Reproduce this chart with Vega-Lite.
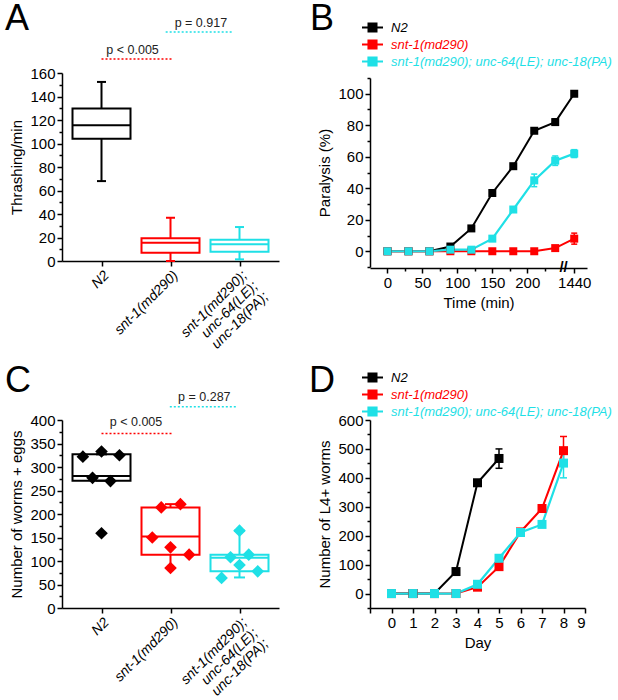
{
 "$schema": "https://vega.github.io/schema/vega-lite/v6.json",
 "autosize": {"type": "pad"},
 "padding": {"left": 5, "top": 1, "right": 0, "bottom": 0},
 "config": {
  "font": "Liberation Sans",
  "view": {"stroke": null},
  "axis": {"domainColor": "black", "domainWidth": 1.5, "tickColor": "black", "tickWidth": 1.5, "tickSize": 5, "labelColor": "black", "labelFontSize": 15, "titleFontSize": 15, "titleFontWeight": "normal", "titleColor": "black", "grid": false, "labelPadding": 2, "titlePadding": 5, "labelOverlap": false},
  "tick": {"opacity": 1},
  "title": {"fontWeight": "normal", "color": "black", "fontSize": 36}
 },
 "datasets": {
  "boxA": [
   {"g": 0, "strain": "N2", "lo": 68, "q1": 104, "med": 115.5, "q3": 129.7, "hi": 152.4},
   {"g": 1, "strain": "snt-1(md290)", "lo": 0, "q1": 7.1, "med": 15.6, "q3": 19.3, "hi": 36.8},
   {"g": 2, "strain": "snt-1(md290); unc-64(LE); unc-18(PA)", "lo": 1.4, "q1": 7.9, "med": 14.2, "q3": 18.1, "hi": 28.9}
  ],
  "pA": [
   {"strain": "snt-1(md290)", "x": 0, "x2": 1.03, "y": 172, "tx": 0.45, "ty": 180, "label": "p < 0.005"},
   {"strain": "snt-1(md290); unc-64(LE); unc-18(PA)", "x": 0.93, "x2": 1.91, "y": 195, "tx": 1.44, "ty": 202.5, "label": "p = 0.917"}
  ],
  "boxC": [
   {"g": 0, "strain": "N2", "lo": 271, "q1": 271, "med": 281, "q3": 327, "hi": 327},
   {"g": 1, "strain": "snt-1(md290)", "lo": 85, "q1": 113.5, "med": 152, "q3": 214, "hi": 221},
   {"g": 2, "strain": "snt-1(md290); unc-64(LE); unc-18(PA)", "lo": 65, "q1": 78, "med": 107, "q3": 113.5, "hi": 164.5}
  ],
  "ptsC": [
   {"strain": "N2", "pos": -0.27, "v": 322},
   {"strain": "N2", "pos": 0, "v": 333},
   {"strain": "N2", "pos": 0.26, "v": 325},
   {"strain": "N2", "pos": -0.13, "v": 277},
   {"strain": "N2", "pos": 0.13, "v": 270},
   {"strain": "N2", "pos": 0, "v": 159},
   {"strain": "snt-1(md290)", "pos": 0.866, "v": 214},
   {"strain": "snt-1(md290)", "pos": 1.144, "v": 221},
   {"strain": "snt-1(md290)", "pos": 0.736, "v": 150},
   {"strain": "snt-1(md290)", "pos": 1, "v": 129},
   {"strain": "snt-1(md290)", "pos": 1.27, "v": 113.5},
   {"strain": "snt-1(md290)", "pos": 1, "v": 85},
   {"strain": "snt-1(md290); unc-64(LE); unc-18(PA)", "pos": 2, "v": 164.5},
   {"strain": "snt-1(md290); unc-64(LE); unc-18(PA)", "pos": 1.87, "v": 108},
   {"strain": "snt-1(md290); unc-64(LE); unc-18(PA)", "pos": 2.134, "v": 113.5},
   {"strain": "snt-1(md290); unc-64(LE); unc-18(PA)", "pos": 2, "v": 91.5},
   {"strain": "snt-1(md290); unc-64(LE); unc-18(PA)", "pos": 1.74, "v": 64},
   {"strain": "snt-1(md290); unc-64(LE); unc-18(PA)", "pos": 2.264, "v": 78}
  ],
  "pC": [
   {"strain": "snt-1(md290)", "x": 0, "x2": 1.04, "y": 371.5, "tx": 0.5, "ty": 395, "label": "p < 0.005"},
   {"strain": "snt-1(md290); unc-64(LE); unc-18(PA)", "x": 0.99, "x2": 1.97, "y": 428, "tx": 1.49, "ty": 450, "label": "p = 0.287"}
  ],
  "lineB": [
   {"strain": "N2", "t": 0, "v": 0}, {"strain": "N2", "t": 30, "v": 0}, {"strain": "N2", "t": 60, "v": 0}, {"strain": "N2", "t": 90, "v": 3}, {"strain": "N2", "t": 120, "v": 14.5}, {"strain": "N2", "t": 150, "v": 37}, {"strain": "N2", "t": 180, "v": 54}, {"strain": "N2", "t": 210, "v": 76.5}, {"strain": "N2", "t": 240, "v": 82}, {"strain": "N2", "t": 1440, "v": 100},
   {"strain": "snt-1(md290)", "t": 0, "v": 0}, {"strain": "snt-1(md290)", "t": 30, "v": 0}, {"strain": "snt-1(md290)", "t": 60, "v": 0}, {"strain": "snt-1(md290)", "t": 90, "v": 0}, {"strain": "snt-1(md290)", "t": 120, "v": 0}, {"strain": "snt-1(md290)", "t": 150, "v": 0}, {"strain": "snt-1(md290)", "t": 180, "v": 0}, {"strain": "snt-1(md290)", "t": 210, "v": 0}, {"strain": "snt-1(md290)", "t": 240, "v": 2}, {"strain": "snt-1(md290)", "t": 1440, "v": 8},
   {"strain": "snt-1(md290); unc-64(LE); unc-18(PA)", "t": 0, "v": 0}, {"strain": "snt-1(md290); unc-64(LE); unc-18(PA)", "t": 30, "v": 0}, {"strain": "snt-1(md290); unc-64(LE); unc-18(PA)", "t": 60, "v": 0}, {"strain": "snt-1(md290); unc-64(LE); unc-18(PA)", "t": 90, "v": 1}, {"strain": "snt-1(md290); unc-64(LE); unc-18(PA)", "t": 120, "v": 1}, {"strain": "snt-1(md290); unc-64(LE); unc-18(PA)", "t": 150, "v": 8}, {"strain": "snt-1(md290); unc-64(LE); unc-18(PA)", "t": 180, "v": 26.5}, {"strain": "snt-1(md290); unc-64(LE); unc-18(PA)", "t": 210, "v": 45}, {"strain": "snt-1(md290); unc-64(LE); unc-18(PA)", "t": 240, "v": 57.5}, {"strain": "snt-1(md290); unc-64(LE); unc-18(PA)", "t": 1440, "v": 62}
  ],
  "errB": [
   {"strain": "N2", "t": 240, "lo": 80, "hi": 84},
   {"strain": "snt-1(md290)", "t": 1440, "lo": 4.5, "hi": 11.5},
   {"strain": "snt-1(md290); unc-64(LE); unc-18(PA)", "t": 210, "lo": 41, "hi": 49},
   {"strain": "snt-1(md290); unc-64(LE); unc-18(PA)", "t": 240, "lo": 54.5, "hi": 60.5},
   {"strain": "snt-1(md290); unc-64(LE); unc-18(PA)", "t": 1440, "lo": 59.5, "hi": 64.5}
  ],
  "breakB": [{"t": 252, "v": -10, "s": "//"}],
  "lineD": [
   {"strain": "N2", "d": 0, "v": 0}, {"strain": "N2", "d": 1, "v": 0}, {"strain": "N2", "d": 2, "v": 0}, {"strain": "N2", "d": 3, "v": 76}, {"strain": "N2", "d": 4, "v": 383}, {"strain": "N2", "d": 5, "v": 467},
   {"strain": "snt-1(md290)", "d": 0, "v": 0}, {"strain": "snt-1(md290)", "d": 1, "v": 0}, {"strain": "snt-1(md290)", "d": 2, "v": 0}, {"strain": "snt-1(md290)", "d": 3, "v": 0}, {"strain": "snt-1(md290)", "d": 4, "v": 22}, {"strain": "snt-1(md290)", "d": 5, "v": 93}, {"strain": "snt-1(md290)", "d": 6, "v": 213}, {"strain": "snt-1(md290)", "d": 7, "v": 294}, {"strain": "snt-1(md290)", "d": 8, "v": 494},
   {"strain": "snt-1(md290); unc-64(LE); unc-18(PA)", "d": 0, "v": 0}, {"strain": "snt-1(md290); unc-64(LE); unc-18(PA)", "d": 1, "v": 0}, {"strain": "snt-1(md290); unc-64(LE); unc-18(PA)", "d": 2, "v": 0}, {"strain": "snt-1(md290); unc-64(LE); unc-18(PA)", "d": 3, "v": 0}, {"strain": "snt-1(md290); unc-64(LE); unc-18(PA)", "d": 4, "v": 32}, {"strain": "snt-1(md290); unc-64(LE); unc-18(PA)", "d": 5, "v": 122}, {"strain": "snt-1(md290); unc-64(LE); unc-18(PA)", "d": 6, "v": 211}, {"strain": "snt-1(md290); unc-64(LE); unc-18(PA)", "d": 7, "v": 239}, {"strain": "snt-1(md290); unc-64(LE); unc-18(PA)", "d": 8, "v": 451}
  ],
  "errD": [
   {"strain": "N2", "d": 5, "lo": 433, "hi": 500},
   {"strain": "N2", "d": 4, "lo": 378, "hi": 388},
   {"strain": "snt-1(md290)", "d": 8, "lo": 446, "hi": 543},
   {"strain": "snt-1(md290); unc-64(LE); unc-18(PA)", "d": 8, "lo": 400, "hi": 502}
  ]
 },
 "columns": 2,
 "bounds": "flush",
 "spacing": {"row": 152, "column": 91},
 "resolve": {"scale": {"color": "independent", "stroke": "independent", "strokeWidth": "independent"}, "legend": {"color": "independent"}},
 "concat": [
  {
   "width": 217, "height": 188,
   "title": {"text": "A", "anchor": "start", "frame": "group", "dx": -57, "offset": -21},
   "layer": [
    {
     "data": {"name": "boxA"},
     "mark": {"type": "rule", "strokeWidth": 2},
     "encoding": {
      "x": {"field": "g", "type": "quantitative", "title": null, "scale": {"domain": [-0.5, 2.5], "nice": false, "zero": false},
       "axis": {"values": [0, 1, 2], "tickCount": 100, "labelOverlap": false, "labelFontSize": 14, "labelExpr": "datum.value === 0 ? 'N2' : datum.value === 1 ? 'snt-1(md290)' : ['snt-1(md290);', 'unc-64(LE);', 'unc-18(PA);']", "labelAngle": -45, "labelAlign": "right", "labelBaseline": "top", "labelFontStyle": "italic", "labelLineHeight": 15,
        "encode": {"labels": {"update": {"fill": {"signal": "datum.value === 1 ? '#ff0000' : datum.value === 2 ? '#1fe0e6' : 'black'"}}}}}},
      "y": {"field": "lo", "type": "quantitative", "title": "Thrashing/min", "scale": {"domain": [0, 160], "nice": false},
       "axis": {"values": [0, 10, 20, 30, 40, 50, 60, 70, 80, 90, 100, 110, 120, 130, 140, 150, 160], "tickCount": 100, "labelOverlap": false, "labelExpr": "datum.value % 20 === 0 ? datum.label : ''", "tickSize": {"condition": {"test": "datum.value % 20 === 0", "value": 5}, "value": 3}}},
      "y2": {"field": "hi"},
      "color": {"field": "strain", "type": "nominal", "scale": {"domain": ["N2", "snt-1(md290)", "snt-1(md290); unc-64(LE); unc-18(PA)"], "range": ["#000000", "#ff0000", "#1fe0e6"]}, "legend": null}
     }
    },
    {
     "data": {"name": "boxA"},
     "mark": {"type": "bar", "size": 58, "fill": "white", "strokeWidth": 2},
     "encoding": {
      "x": {"field": "g", "type": "quantitative", "title": null},
      "y": {"field": "q1", "type": "quantitative", "title": "Thrashing/min"},
      "y2": {"field": "q3"},
      "stroke": {"field": "strain", "type": "nominal", "scale": {"domain": ["N2", "snt-1(md290)", "snt-1(md290); unc-64(LE); unc-18(PA)"], "range": ["#000000", "#ff0000", "#1fe0e6"]}, "legend": null}
     }
    },
    {
     "data": {"name": "boxA"},
     "mark": {"type": "tick", "orient": "horizontal", "size": 58, "thickness": 2, "opacity": 1},
     "encoding": {
      "x": {"field": "g", "type": "quantitative", "title": null},
      "y": {"field": "med", "type": "quantitative", "title": "Thrashing/min"},
      "color": {"field": "strain", "type": "nominal", "legend": null}
     }
    },
    {
     "data": {"name": "boxA"},
     "mark": {"type": "tick", "orient": "horizontal", "size": 9, "thickness": 2, "opacity": 1},
     "encoding": {
      "x": {"field": "g", "type": "quantitative", "title": null},
      "y": {"field": "lo", "type": "quantitative", "title": "Thrashing/min"},
      "color": {"field": "strain", "type": "nominal", "legend": null}
     }
    },
    {
     "data": {"name": "boxA"},
     "mark": {"type": "tick", "orient": "horizontal", "size": 9, "thickness": 2, "opacity": 1},
     "encoding": {
      "x": {"field": "g", "type": "quantitative", "title": null},
      "y": {"field": "hi", "type": "quantitative", "title": "Thrashing/min"},
      "color": {"field": "strain", "type": "nominal", "legend": null}
     }
    },
    {
     "data": {"name": "pA"},
     "mark": {"type": "rule", "strokeDash": [2, 2], "strokeWidth": 1.5},
     "encoding": {
      "x": {"field": "x", "type": "quantitative", "title": null},
      "x2": {"field": "x2"},
      "y": {"field": "y", "type": "quantitative", "title": "Thrashing/min"},
      "color": {"field": "strain", "type": "nominal", "legend": null}
     }
    },
    {
     "data": {"name": "pA"},
     "mark": {"type": "text", "fontSize": 12.5, "color": "#222222"},
     "encoding": {
      "x": {"field": "tx", "type": "quantitative", "title": null},
      "y": {"field": "ty", "type": "quantitative", "title": "Thrashing/min"},
      "text": {"field": "label"}
     }
    }
   ]
  },
  {
   "width": 217, "height": 195,
   "title": {"text": "B", "anchor": "start", "frame": "group", "dx": -60, "offset": -17},
   "layer": [
    {
     "data": {"name": "lineB"},
     "mark": {"type": "line"},
     "encoding": {
      "x": {"field": "t", "type": "quantitative", "title": "Time (min)", "scale": {"domain": [-25, 254, 1427, 1458], "range": [0, 195, 195, 217], "nice": false, "zero": false},
       "axis": {"format": "d", "tickCount": 100, "labelOverlap": false, "values": [0, 25, 50, 75, 100, 125, 150, 175, 200, 225, 1440], "labelExpr": "(datum.value % 50 === 0 || datum.value === 1440) ? datum.label : ''", "tickSize": {"condition": {"test": "datum.value % 50 === 0 || datum.value === 1440", "value": 5}, "value": 3}}},
      "y": {"field": "v", "type": "quantitative", "title": "Paralysis (%)", "scale": {"domain": [-10, 110], "range": [194, 5], "nice": false, "zero": false},
       "axis": {"tickCount": 100, "labelOverlap": false, "values": [-10, 0, 10, 20, 30, 40, 50, 60, 70, 80, 90, 100, 110], "labelExpr": "datum.value % 20 === 0 ? datum.label : ''", "tickSize": {"condition": {"test": "datum.value % 20 === 0", "value": 5}, "value": 3}}},
      "color": {"field": "strain", "type": "nominal", "scale": {"domain": ["N2", "snt-1(md290)", "snt-1(md290); unc-64(LE); unc-18(PA)"], "range": ["#000000", "#ff0000", "#1fe0e6"]},
       "legend": {"orient": "none", "legendX": -4, "legendY": -52, "title": null, "padding": 0, "labelFontStyle": "italic", "labelFontSize": 13, "labelLimit": 400, "symbolType": "M-2.1,0H2.1M-0.8,-0.8H0.8V0.8H-0.8Z", "symbolSize": 100, "symbolStrokeWidth": 2, "labelOffset": 12, "rowPadding": 0,
        "encode": {
         "labels": {"update": {"fill": {"signal": "datum.value === 'N2' ? 'black' : datum.value === 'snt-1(md290)' ? '#ff0000' : '#1fe0e6'"}}},
         "symbols": {"update": {"fill": {"signal": "datum.value === 'N2' ? 'black' : datum.value === 'snt-1(md290)' ? '#ff0000' : '#1fe0e6'"}, "stroke": {"signal": "datum.value === 'N2' ? 'black' : datum.value === 'snt-1(md290)' ? '#ff0000' : '#1fe0e6'"}, "opacity": {"value": 1}}}
        }}},
      "strokeWidth": {"field": "strain", "type": "nominal", "scale": {"domain": ["N2", "snt-1(md290)", "snt-1(md290); unc-64(LE); unc-18(PA)"], "range": [2, 2.2, 1.5]}, "legend": null}
     }
    },
    {
     "data": {"name": "errB"},
     "mark": {"type": "errorbar", "ticks": true, "size": 6, "thickness": 1.5},
     "encoding": {
      "x": {"field": "t", "type": "quantitative", "title": "Time (min)"},
      "y": {"field": "lo", "type": "quantitative", "title": "Paralysis (%)"},
      "y2": {"field": "hi"},
      "color": {"field": "strain", "type": "nominal"}
     }
    },
    {
     "data": {"name": "lineB"},
     "mark": {"type": "point", "shape": "square", "filled": true, "size": 64, "opacity": 1},
     "encoding": {
      "x": {"field": "t", "type": "quantitative", "title": "Time (min)"},
      "y": {"field": "v", "type": "quantitative", "title": "Paralysis (%)"},
      "color": {"field": "strain", "type": "nominal"}
     }
    },
    {
     "data": {"name": "breakB"},
     "mark": {"type": "text", "fontSize": 15, "fontWeight": "bold", "color": "black"},
     "encoding": {
      "x": {"field": "t", "type": "quantitative", "title": "Time (min)"},
      "y": {"field": "v", "type": "quantitative", "title": "Paralysis (%)"},
      "text": {"field": "s"}
     }
    }
   ]
  },
  {
   "width": 217, "height": 188,
   "title": {"text": "C", "anchor": "start", "frame": "group", "dx": -57, "offset": -9},
   "layer": [
    {
     "data": {"name": "boxC"},
     "mark": {"type": "rule", "strokeWidth": 2},
     "encoding": {
      "x": {"field": "g", "type": "quantitative", "title": null, "scale": {"domain": [-0.5, 2.5], "nice": false, "zero": false},
       "axis": {"values": [0, 1, 2], "tickCount": 100, "labelOverlap": false, "labelFontSize": 14, "labelExpr": "datum.value === 0 ? 'N2' : datum.value === 1 ? 'snt-1(md290)' : ['snt-1(md290);', 'unc-64(LE);', 'unc-18(PA);']", "labelAngle": -45, "labelAlign": "right", "labelBaseline": "top", "labelFontStyle": "italic", "labelLineHeight": 15,
        "encode": {"labels": {"update": {"fill": {"signal": "datum.value === 1 ? '#ff0000' : datum.value === 2 ? '#1fe0e6' : 'black'"}}}}}},
      "y": {"field": "lo", "type": "quantitative", "title": "Number of worms + eggs", "scale": {"domain": [0, 400], "nice": false},
       "axis": {"tickCount": 100, "labelOverlap": false, "values": [0, 25, 50, 75, 100, 125, 150, 175, 200, 225, 250, 275, 300, 325, 350, 375, 400], "labelExpr": "datum.value % 50 === 0 ? datum.label : ''", "tickSize": {"condition": {"test": "datum.value % 50 === 0", "value": 5}, "value": 3}}},
      "y2": {"field": "hi"},
      "color": {"field": "strain", "type": "nominal", "scale": {"domain": ["N2", "snt-1(md290)", "snt-1(md290); unc-64(LE); unc-18(PA)"], "range": ["#000000", "#ff0000", "#1fe0e6"]}, "legend": null}
     }
    },
    {
     "data": {"name": "boxC"},
     "mark": {"type": "bar", "size": 58, "fill": "white", "strokeWidth": 2},
     "encoding": {
      "x": {"field": "g", "type": "quantitative", "title": null},
      "y": {"field": "q1", "type": "quantitative", "title": "Number of worms + eggs"},
      "y2": {"field": "q3"},
      "stroke": {"field": "strain", "type": "nominal", "scale": {"domain": ["N2", "snt-1(md290)", "snt-1(md290); unc-64(LE); unc-18(PA)"], "range": ["#000000", "#ff0000", "#1fe0e6"]}, "legend": null}
     }
    },
    {
     "data": {"name": "boxC"},
     "mark": {"type": "tick", "orient": "horizontal", "size": 58, "thickness": 2, "opacity": 1},
     "encoding": {
      "x": {"field": "g", "type": "quantitative", "title": null},
      "y": {"field": "med", "type": "quantitative", "title": "Number of worms + eggs"},
      "color": {"field": "strain", "type": "nominal", "legend": null}
     }
    },
    {
     "data": {"name": "boxC"},
     "mark": {"type": "tick", "orient": "horizontal", "size": 11, "thickness": 2, "opacity": 1},
     "encoding": {
      "x": {"field": "g", "type": "quantitative", "title": null},
      "y": {"field": "lo", "type": "quantitative", "title": "Number of worms + eggs"},
      "color": {"field": "strain", "type": "nominal", "legend": null}
     }
    },
    {
     "data": {"name": "boxC"},
     "mark": {"type": "tick", "orient": "horizontal", "size": 11, "thickness": 2, "opacity": 1},
     "encoding": {
      "x": {"field": "g", "type": "quantitative", "title": null},
      "y": {"field": "hi", "type": "quantitative", "title": "Number of worms + eggs"},
      "color": {"field": "strain", "type": "nominal", "legend": null}
     }
    },
    {
     "data": {"name": "ptsC"},
     "mark": {"type": "point", "shape": "diamond", "filled": true, "size": 160, "opacity": 1},
     "encoding": {
      "x": {"field": "pos", "type": "quantitative", "title": null},
      "y": {"field": "v", "type": "quantitative", "title": "Number of worms + eggs"},
      "color": {"field": "strain", "type": "nominal", "legend": null}
     }
    },
    {
     "data": {"name": "pC"},
     "mark": {"type": "rule", "strokeDash": [2, 2], "strokeWidth": 1.5},
     "encoding": {
      "x": {"field": "x", "type": "quantitative", "title": null},
      "x2": {"field": "x2"},
      "y": {"field": "y", "type": "quantitative", "title": "Number of worms + eggs"},
      "color": {"field": "strain", "type": "nominal", "legend": null}
     }
    },
    {
     "data": {"name": "pC"},
     "mark": {"type": "text", "fontSize": 12.5, "color": "#222222"},
     "encoding": {
      "x": {"field": "tx", "type": "quantitative", "title": null},
      "y": {"field": "ty", "type": "quantitative", "title": "Number of worms + eggs"},
      "text": {"field": "label"}
     }
    }
   ]
  },
  {
   "width": 215, "height": 188,
   "title": {"text": "D", "anchor": "start", "frame": "group", "dx": -61, "offset": -29},
   "layer": [
    {
     "data": {"name": "lineD"},
     "mark": {"type": "line"},
     "encoding": {
      "x": {"field": "d", "type": "quantitative", "title": "Day", "scale": {"domain": [-1, 9], "nice": false, "zero": false},
       "axis": {"format": "d", "tickCount": 100, "labelOverlap": false, "values": [-1, -0.5, 0, 0.5, 1, 1.5, 2, 2.5, 3, 3.5, 4, 4.5, 5, 5.5, 6, 6.5, 7, 7.5, 8, 8.5, 9], "labelExpr": "(datum.value >= 0 && datum.value % 1 === 0) ? datum.label : ''", "tickSize": {"condition": {"test": "datum.value % 1 === 0", "value": 5}, "value": 3}}},
      "y": {"field": "v", "type": "quantitative", "title": "Number of L4+ worms", "scale": {"domain": [-50, 600], "nice": false, "zero": false},
       "axis": {"tickCount": 100, "labelOverlap": false, "values": [-50, 0, 50, 100, 150, 200, 250, 300, 350, 400, 450, 500, 550, 600], "labelExpr": "datum.value % 100 === 0 ? datum.label : ''", "tickSize": {"condition": {"test": "datum.value % 100 === 0", "value": 5}, "value": 3}}},
      "color": {"field": "strain", "type": "nominal", "scale": {"domain": ["N2", "snt-1(md290)", "snt-1(md290); unc-64(LE); unc-18(PA)"], "range": ["#000000", "#ff0000", "#1fe0e6"]},
       "legend": {"orient": "none", "legendX": -4, "legendY": -49, "title": null, "padding": 0, "labelFontStyle": "italic", "labelFontSize": 13, "labelLimit": 400, "symbolType": "M-2.1,0H2.1M-0.8,-0.8H0.8V0.8H-0.8Z", "symbolSize": 100, "symbolStrokeWidth": 2, "labelOffset": 12, "rowPadding": 0,
        "encode": {
         "labels": {"update": {"fill": {"signal": "datum.value === 'N2' ? 'black' : datum.value === 'snt-1(md290)' ? '#ff0000' : '#1fe0e6'"}}},
         "symbols": {"update": {"fill": {"signal": "datum.value === 'N2' ? 'black' : datum.value === 'snt-1(md290)' ? '#ff0000' : '#1fe0e6'"}, "stroke": {"signal": "datum.value === 'N2' ? 'black' : datum.value === 'snt-1(md290)' ? '#ff0000' : '#1fe0e6'"}, "opacity": {"value": 1}}}
        }}},
      "strokeWidth": {"field": "strain", "type": "nominal", "scale": {"domain": ["N2", "snt-1(md290)", "snt-1(md290); unc-64(LE); unc-18(PA)"], "range": [2, 2.2, 2]}, "legend": null}
     }
    },
    {
     "data": {"name": "errD"},
     "mark": {"type": "errorbar", "ticks": true, "size": 7, "thickness": 1.5},
     "encoding": {
      "x": {"field": "d", "type": "quantitative", "title": "Day"},
      "y": {"field": "lo", "type": "quantitative", "title": "Number of L4+ worms"},
      "y2": {"field": "hi"},
      "color": {"field": "strain", "type": "nominal"}
     }
    },
    {
     "data": {"name": "lineD"},
     "mark": {"type": "point", "shape": "square", "filled": true, "size": 81, "opacity": 1},
     "encoding": {
      "x": {"field": "d", "type": "quantitative", "title": "Day"},
      "y": {"field": "v", "type": "quantitative", "title": "Number of L4+ worms"},
      "color": {"field": "strain", "type": "nominal"}
     }
    }
   ]
  }
 ]
}
